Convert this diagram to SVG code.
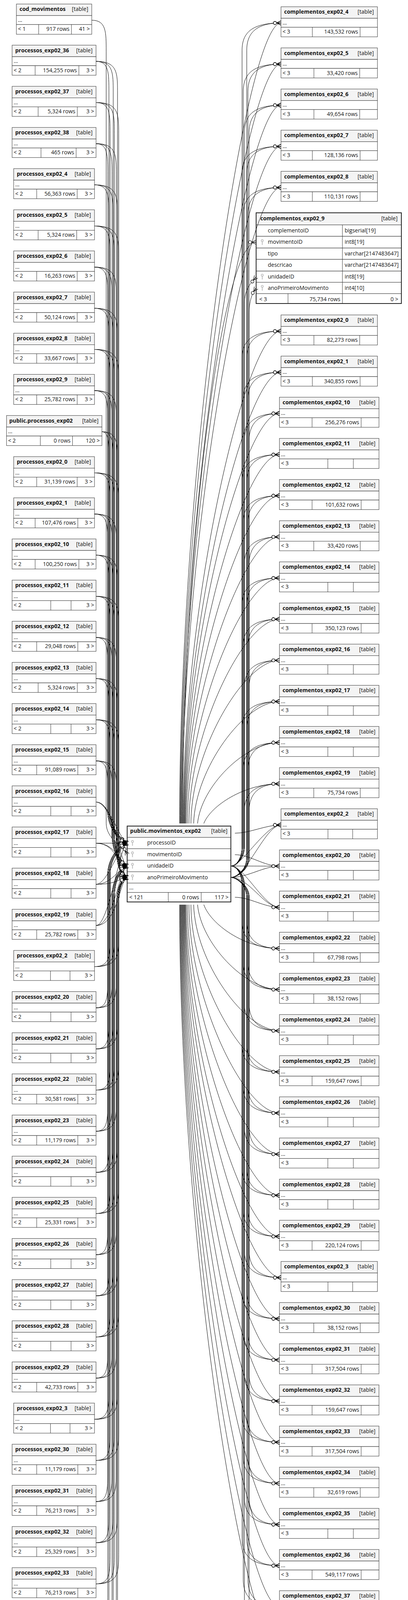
<svg xmlns="http://www.w3.org/2000/svg" xmlns:xlink="http://www.w3.org/1999/xlink" width="1045" height="4356" viewBox="0 0 1045 4356">
<style>
.hd{fill:#f4f4f4;stroke:#333;stroke-width:1}
.bx{fill:#fff;stroke:#333;stroke-width:1}
.dv{fill:none;stroke:#333;stroke-width:1}
.ob{fill:none;stroke:#222;stroke-width:2}
text{font-family:"Open Sans","Noto Sans","DejaVu Sans",sans-serif;font-size:14px;fill:#111}
.t{font-weight:bold}
.e{text-anchor:end}
.ed{fill:none;stroke:#000;stroke-width:1;marker-end:url(#co)}
.k{fill:none;stroke:#bbb}
</style>
<defs>
<marker id="co" markerUnits="userSpaceOnUse" markerWidth="22" markerHeight="14" refX="20" refY="7" orient="auto" overflow="visible"><path d="M9,7L20,1.5M9,7H20M9,7L20,12.5" fill="none" stroke="#000" stroke-width="1.2"/><circle cx="4.5" cy="7" r="4" fill="#fff" stroke="#000" stroke-width="1.2"/></marker>
<g id="key"><circle cx="0" cy="-4" r="2.6" class="k" stroke-width="1.6"/><path d="M0,-1.4V7" class="k" stroke-width="2"/></g>
<g id="fA"><rect class="hd" width="215" height="29.5"/><rect class="bx" y="29.5" width="215" height="23"/><rect class="bx" y="52.5" width="215" height="24.5"/></g>
<g id="fB"><rect class="hd" width="207" height="29.5"/><rect class="bx" y="29.5" width="207" height="23"/><rect class="bx" y="52.5" width="207" height="24.5"/></g>
<g id="fC"><rect class="hd" width="247" height="29.5"/><rect class="bx" y="29.5" width="247" height="23"/><rect class="bx" y="52.5" width="247" height="24.5"/></g>
<g id="fD"><rect class="hd" width="255" height="29.5"/><rect class="bx" y="29.5" width="255" height="23"/><rect class="bx" y="52.5" width="255" height="24.5"/></g>
<g id="A12"><use href="#fA"/><path class="dv" d="M59,52.5v24.5M171,52.5v24.5"/></g>
<g id="A11"><use href="#fA"/><path class="dv" d="M63,52.5v24.5M168.3,52.5v24.5"/></g>
<g id="A10"><use href="#fA"/><path class="dv" d="M66.7,52.5v24.5M167,52.5v24.5"/></g>
<g id="A8"><use href="#fA"/><path class="dv" d="M74,52.5v24.5M164,52.5v24.5"/></g>
<g id="Ae"><use href="#fA"/><path class="dv" d="M99,52.5v24.5M151,52.5v24.5"/></g>
<g id="B12"><use href="#fB"/><path class="dv" d="M55,52.5v24.5M164.3,52.5v24.5"/></g>
<g id="B11"><use href="#fB"/><path class="dv" d="M59,52.5v24.5M162.7,52.5v24.5"/></g>
<g id="B10"><use href="#fB"/><path class="dv" d="M62.7,52.5v24.5M161.5,52.5v24.5"/></g>
<g id="Be"><use href="#fB"/><path class="dv" d="M94.3,52.5v24.5M144.3,52.5v24.5"/></g>
<g id="C12"><use href="#fC"/><path class="dv" d="M80.3,52.5v24.5M202.6,52.5v24.5"/></g>
<g id="C11"><use href="#fC"/><path class="dv" d="M84.3,52.5v24.5M201.6,52.5v24.5"/></g>
<g id="Ce"><use href="#fC"/><path class="dv" d="M120.3,52.5v24.5M183.6,52.5v24.5"/></g>
<g id="D12"><use href="#fD"/><path class="dv" d="M83.6,52.5v24.5M209.3,52.5v24.5"/></g>
<g id="D11"><use href="#fD"/><path class="dv" d="M88,52.5v24.5M207,52.5v24.5"/></g>
<g id="D10"><use href="#fD"/><path class="dv" d="M92,52.5v24.5M205.3,52.5v24.5"/></g>
<g id="De"><use href="#fD"/><path class="dv" d="M124,52.5v24.5M189.3,52.5v24.5"/></g>
</defs>
<rect width="1045" height="4356" fill="#fff"/>

<g id="left-nodes">
<g id="n_cod_movimentos" transform="translate(42,10.3)"><rect class="hd" width="193" height="29.5"/><rect class="bx" y="29.5" width="193" height="23"/><rect class="bx" y="52.5" width="193" height="25"/><path class="dv" d="M57,52.5v25M141,52.5v25"/><text class="t" x="8" y="18">cod_movimentos</text><text class="e" x="184" y="18">[table]</text><text x="4" y="45.5">...</text><text x="4" y="69">&lt; 1</text><text class="e" x="136" y="69">917 rows</text><text class="e" x="188" y="69">41 &gt;</text></g>
<g id="n_processos_exp02_36" transform="translate(31,115.6)"><use href="#A12"/><text class="t" x="8" y="18">processos_exp02_36</text><text class="e" x="206" y="18">[table]</text><text x="4" y="45.5">...</text><text x="4" y="69">&lt; 2</text><text class="e" x="166" y="69">154,255 rows</text><text class="e" x="210" y="69">3 &gt;</text></g>
<g id="n_processos_exp02_37" transform="translate(31,221)"><use href="#A10"/><text class="t" x="8" y="18">processos_exp02_37</text><text class="e" x="206" y="18">[table]</text><text x="4" y="45.5">...</text><text x="4" y="69">&lt; 2</text><text class="e" x="162" y="69">5,324 rows</text><text class="e" x="210" y="69">3 &gt;</text></g>
<g id="n_processos_exp02_38" transform="translate(31,326.3)"><use href="#A8"/><text class="t" x="8" y="18">processos_exp02_38</text><text class="e" x="206" y="18">[table]</text><text x="4" y="45.5">...</text><text x="4" y="69">&lt; 2</text><text class="e" x="159" y="69">465 rows</text><text class="e" x="210" y="69">3 &gt;</text></g>
<g id="n_processos_exp02_4" transform="translate(35,431.7)"><use href="#B11"/><text class="t" x="8" y="18">processos_exp02_4</text><text class="e" x="198" y="18">[table]</text><text x="4" y="45.5">...</text><text x="4" y="69">&lt; 2</text><text class="e" x="157.7" y="69">56,363 rows</text><text class="e" x="202" y="69">3 &gt;</text></g>
<g id="n_processos_exp02_5" transform="translate(35,537)"><use href="#B10"/><text class="t" x="8" y="18">processos_exp02_5</text><text class="e" x="198" y="18">[table]</text><text x="4" y="45.5">...</text><text x="4" y="69">&lt; 2</text><text class="e" x="156.5" y="69">5,324 rows</text><text class="e" x="202" y="69">3 &gt;</text></g>
<g id="n_processos_exp02_6" transform="translate(35,642.3)"><use href="#B11"/><text class="t" x="8" y="18">processos_exp02_6</text><text class="e" x="198" y="18">[table]</text><text x="4" y="45.5">...</text><text x="4" y="69">&lt; 2</text><text class="e" x="157.7" y="69">16,263 rows</text><text class="e" x="202" y="69">3 &gt;</text></g>
<g id="n_processos_exp02_7" transform="translate(35,747.7)"><use href="#B11"/><text class="t" x="8" y="18">processos_exp02_7</text><text class="e" x="198" y="18">[table]</text><text x="4" y="45.5">...</text><text x="4" y="69">&lt; 2</text><text class="e" x="157.7" y="69">50,124 rows</text><text class="e" x="202" y="69">3 &gt;</text></g>
<g id="n_processos_exp02_8" transform="translate(35,853)"><use href="#B11"/><text class="t" x="8" y="18">processos_exp02_8</text><text class="e" x="198" y="18">[table]</text><text x="4" y="45.5">...</text><text x="4" y="69">&lt; 2</text><text class="e" x="157.7" y="69">33,667 rows</text><text class="e" x="202" y="69">3 &gt;</text></g>
<g id="n_processos_exp02_9" transform="translate(35,958.4)"><use href="#B11"/><text class="t" x="8" y="18">processos_exp02_9</text><text class="e" x="198" y="18">[table]</text><text x="4" y="45.5">...</text><text x="4" y="69">&lt; 2</text><text class="e" x="157.7" y="69">25,782 rows</text><text class="e" x="202" y="69">3 &gt;</text></g>
<g id="n_public_processos_exp02" transform="translate(16.7,1063.7)"><rect class="hd" width="244.3" height="29.5"/><rect class="bx" y="29.5" width="244.3" height="23"/><rect class="bx" y="52.5" width="244.3" height="24.5"/><path class="dv" d="M86.6,52.5v24.5M169,52.5v24.5"/><text class="t" x="7" y="18">public.processos_exp02</text><text class="e" x="235.6" y="18">[table]</text><text x="4" y="45.5">...</text><text x="4" y="69">&lt; 2</text><text class="e" x="164" y="69">0 rows</text><text class="e" x="238.8" y="69">120 &gt;</text></g>
<g id="n_processos_exp02_0" transform="translate(35,1169)"><use href="#B11"/><text class="t" x="8" y="18">processos_exp02_0</text><text class="e" x="198" y="18">[table]</text><text x="4" y="45.5">...</text><text x="4" y="69">&lt; 2</text><text class="e" x="157.7" y="69">31,139 rows</text><text class="e" x="202" y="69">3 &gt;</text></g>
<g id="n_processos_exp02_1" transform="translate(35,1274.4)"><use href="#B12"/><text class="t" x="8" y="18">processos_exp02_1</text><text class="e" x="198" y="18">[table]</text><text x="4" y="45.5">...</text><text x="4" y="69">&lt; 2</text><text class="e" x="159.3" y="69">107,476 rows</text><text class="e" x="202" y="69">3 &gt;</text></g>
<g id="n_processos_exp02_10" transform="translate(31,1379.7)"><use href="#A12"/><text class="t" x="8" y="18">processos_exp02_10</text><text class="e" x="206" y="18">[table]</text><text x="4" y="45.5">...</text><text x="4" y="69">&lt; 2</text><text class="e" x="166" y="69">100,250 rows</text><text class="e" x="210" y="69">3 &gt;</text></g>
<g id="n_processos_exp02_11" transform="translate(31,1485.1)"><use href="#Ae"/><text class="t" x="8" y="18">processos_exp02_11</text><text class="e" x="206" y="18">[table]</text><text x="4" y="45.5">...</text><text x="4" y="69">&lt; 2</text><text class="e" x="210" y="69">3 &gt;</text></g>
<g id="n_processos_exp02_12" transform="translate(31,1590.4)"><use href="#A11"/><text class="t" x="8" y="18">processos_exp02_12</text><text class="e" x="206" y="18">[table]</text><text x="4" y="45.5">...</text><text x="4" y="69">&lt; 2</text><text class="e" x="163.3" y="69">29,048 rows</text><text class="e" x="210" y="69">3 &gt;</text></g>
<g id="n_processos_exp02_13" transform="translate(31,1695.7)"><use href="#A10"/><text class="t" x="8" y="18">processos_exp02_13</text><text class="e" x="206" y="18">[table]</text><text x="4" y="45.5">...</text><text x="4" y="69">&lt; 2</text><text class="e" x="162" y="69">5,324 rows</text><text class="e" x="210" y="69">3 &gt;</text></g>
<g id="n_processos_exp02_14" transform="translate(31,1801.1)"><use href="#Ae"/><text class="t" x="8" y="18">processos_exp02_14</text><text class="e" x="206" y="18">[table]</text><text x="4" y="45.5">...</text><text x="4" y="69">&lt; 2</text><text class="e" x="210" y="69">3 &gt;</text></g>
<g id="n_processos_exp02_15" transform="translate(31,1906.4)"><use href="#A11"/><text class="t" x="8" y="18">processos_exp02_15</text><text class="e" x="206" y="18">[table]</text><text x="4" y="45.5">...</text><text x="4" y="69">&lt; 2</text><text class="e" x="163.3" y="69">91,089 rows</text><text class="e" x="210" y="69">3 &gt;</text></g>
<g id="n_processos_exp02_16" transform="translate(31,2011.8)"><use href="#Ae"/><text class="t" x="8" y="18">processos_exp02_16</text><text class="e" x="206" y="18">[table]</text><text x="4" y="45.5">...</text><text x="4" y="69">&lt; 2</text><text class="e" x="210" y="69">3 &gt;</text></g>
<g id="n_processos_exp02_17" transform="translate(31,2117.1)"><use href="#Ae"/><text class="t" x="8" y="18">processos_exp02_17</text><text class="e" x="206" y="18">[table]</text><text x="4" y="45.5">...</text><text x="4" y="69">&lt; 2</text><text class="e" x="210" y="69">3 &gt;</text></g>
<g id="n_processos_exp02_18" transform="translate(31,2222.4)"><use href="#Ae"/><text class="t" x="8" y="18">processos_exp02_18</text><text class="e" x="206" y="18">[table]</text><text x="4" y="45.5">...</text><text x="4" y="69">&lt; 2</text><text class="e" x="210" y="69">3 &gt;</text></g>
<g id="n_processos_exp02_19" transform="translate(31,2327.8)"><use href="#A11"/><text class="t" x="8" y="18">processos_exp02_19</text><text class="e" x="206" y="18">[table]</text><text x="4" y="45.5">...</text><text x="4" y="69">&lt; 2</text><text class="e" x="163.3" y="69">25,782 rows</text><text class="e" x="210" y="69">3 &gt;</text></g>
<g id="n_processos_exp02_2" transform="translate(35,2433.1)"><use href="#Be"/><text class="t" x="8" y="18">processos_exp02_2</text><text class="e" x="198" y="18">[table]</text><text x="4" y="45.5">...</text><text x="4" y="69">&lt; 2</text><text class="e" x="202" y="69">3 &gt;</text></g>
<g id="n_processos_exp02_20" transform="translate(31,2538.5)"><use href="#Ae"/><text class="t" x="8" y="18">processos_exp02_20</text><text class="e" x="206" y="18">[table]</text><text x="4" y="45.5">...</text><text x="4" y="69">&lt; 2</text><text class="e" x="210" y="69">3 &gt;</text></g>
<g id="n_processos_exp02_21" transform="translate(31,2643.8)"><use href="#Ae"/><text class="t" x="8" y="18">processos_exp02_21</text><text class="e" x="206" y="18">[table]</text><text x="4" y="45.5">...</text><text x="4" y="69">&lt; 2</text><text class="e" x="210" y="69">3 &gt;</text></g>
<g id="n_processos_exp02_22" transform="translate(31,2749.1)"><use href="#A11"/><text class="t" x="8" y="18">processos_exp02_22</text><text class="e" x="206" y="18">[table]</text><text x="4" y="45.5">...</text><text x="4" y="69">&lt; 2</text><text class="e" x="163.3" y="69">30,581 rows</text><text class="e" x="210" y="69">3 &gt;</text></g>
<g id="n_processos_exp02_23" transform="translate(31,2854.5)"><use href="#A11"/><text class="t" x="8" y="18">processos_exp02_23</text><text class="e" x="206" y="18">[table]</text><text x="4" y="45.5">...</text><text x="4" y="69">&lt; 2</text><text class="e" x="163.3" y="69">11,179 rows</text><text class="e" x="210" y="69">3 &gt;</text></g>
<g id="n_processos_exp02_24" transform="translate(31,2959.8)"><use href="#Ae"/><text class="t" x="8" y="18">processos_exp02_24</text><text class="e" x="206" y="18">[table]</text><text x="4" y="45.5">...</text><text x="4" y="69">&lt; 2</text><text class="e" x="210" y="69">3 &gt;</text></g>
<g id="n_processos_exp02_25" transform="translate(31,3065.2)"><use href="#A11"/><text class="t" x="8" y="18">processos_exp02_25</text><text class="e" x="206" y="18">[table]</text><text x="4" y="45.5">...</text><text x="4" y="69">&lt; 2</text><text class="e" x="163.3" y="69">25,331 rows</text><text class="e" x="210" y="69">3 &gt;</text></g>
<g id="n_processos_exp02_26" transform="translate(31,3170.5)"><use href="#Ae"/><text class="t" x="8" y="18">processos_exp02_26</text><text class="e" x="206" y="18">[table]</text><text x="4" y="45.5">...</text><text x="4" y="69">&lt; 2</text><text class="e" x="210" y="69">3 &gt;</text></g>
<g id="n_processos_exp02_27" transform="translate(31,3275.8)"><use href="#Ae"/><text class="t" x="8" y="18">processos_exp02_27</text><text class="e" x="206" y="18">[table]</text><text x="4" y="45.5">...</text><text x="4" y="69">&lt; 2</text><text class="e" x="210" y="69">3 &gt;</text></g>
<g id="n_processos_exp02_28" transform="translate(31,3381.2)"><use href="#Ae"/><text class="t" x="8" y="18">processos_exp02_28</text><text class="e" x="206" y="18">[table]</text><text x="4" y="45.5">...</text><text x="4" y="69">&lt; 2</text><text class="e" x="210" y="69">3 &gt;</text></g>
<g id="n_processos_exp02_29" transform="translate(31,3486.5)"><use href="#A11"/><text class="t" x="8" y="18">processos_exp02_29</text><text class="e" x="206" y="18">[table]</text><text x="4" y="45.5">...</text><text x="4" y="69">&lt; 2</text><text class="e" x="163.3" y="69">42,733 rows</text><text class="e" x="210" y="69">3 &gt;</text></g>
<g id="n_processos_exp02_3" transform="translate(35,3591.9)"><use href="#Be"/><text class="t" x="8" y="18">processos_exp02_3</text><text class="e" x="198" y="18">[table]</text><text x="4" y="45.5">...</text><text x="4" y="69">&lt; 2</text><text class="e" x="202" y="69">3 &gt;</text></g>
<g id="n_processos_exp02_30" transform="translate(31,3697.2)"><use href="#A11"/><text class="t" x="8" y="18">processos_exp02_30</text><text class="e" x="206" y="18">[table]</text><text x="4" y="45.5">...</text><text x="4" y="69">&lt; 2</text><text class="e" x="163.3" y="69">11,179 rows</text><text class="e" x="210" y="69">3 &gt;</text></g>
<g id="n_processos_exp02_31" transform="translate(31,3802.5)"><use href="#A11"/><text class="t" x="8" y="18">processos_exp02_31</text><text class="e" x="206" y="18">[table]</text><text x="4" y="45.5">...</text><text x="4" y="69">&lt; 2</text><text class="e" x="163.3" y="69">76,213 rows</text><text class="e" x="210" y="69">3 &gt;</text></g>
<g id="n_processos_exp02_32" transform="translate(31,3907.9)"><use href="#A11"/><text class="t" x="8" y="18">processos_exp02_32</text><text class="e" x="206" y="18">[table]</text><text x="4" y="45.5">...</text><text x="4" y="69">&lt; 2</text><text class="e" x="163.3" y="69">25,329 rows</text><text class="e" x="210" y="69">3 &gt;</text></g>
<g id="n_processos_exp02_33" transform="translate(31,4013.2)"><use href="#A11"/><text class="t" x="8" y="18">processos_exp02_33</text><text class="e" x="206" y="18">[table]</text><text x="4" y="45.5">...</text><text x="4" y="69">&lt; 2</text><text class="e" x="163.3" y="69">76,213 rows</text><text class="e" x="210" y="69">3 &gt;</text></g>
<g id="n_processos_exp02_34" transform="translate(31,4118.6)"><use href="#A11"/><text class="t" x="8" y="18">processos_exp02_34</text><text class="e" x="206" y="18">[table]</text><text x="4" y="45.5">...</text><text x="4" y="69">&lt; 2</text><text class="e" x="163.3" y="69">14,876 rows</text><text class="e" x="210" y="69">3 &gt;</text></g>
<g id="n_processos_exp02_35" transform="translate(31,4223.9)"><use href="#Ae"/><text class="t" x="8" y="18">processos_exp02_35</text><text class="e" x="206" y="18">[table]</text><text x="4" y="45.5">...</text><text x="4" y="69">&lt; 2</text><text class="e" x="210" y="69">3 &gt;</text></g>
</g>

<g id="n_public_movimentos_exp02" transform="translate(325.7,2114.7)">
<rect class="hd" width="265.6" height="29"/>
<rect class="bx" y="29" width="265.6" height="29"/>
<rect class="bx" y="58" width="265.6" height="29.6"/>
<rect class="bx" y="87.6" width="265.6" height="29.4"/>
<rect class="bx" y="117" width="265.6" height="29"/>
<rect class="bx" y="146" width="265.6" height="24"/>
<rect class="bx" y="170" width="265.6" height="24.3"/>
<path class="dv" d="M105.3,170v24.3M189.6,170v24.3"/>
<rect class="ob" width="265.6" height="194.3"/>
<text class="t" x="7.6" y="17.5">public.movimentos_exp02</text><text class="e" x="257" y="17.5">[table]</text>
<use href="#key" x="13.6" y="43.5"/><use href="#key" x="13.6" y="72.5"/><use href="#key" x="13.6" y="102"/><use href="#key" x="13.6" y="131.5"/>
<text x="51.3" y="47.5">processoID</text><text x="51.3" y="77">movimentoID</text><text x="51.3" y="106.5">unidadeID</text><text x="51.3" y="136">anoPrimeiroMovimento</text>
<text x="5.3" y="162">...</text>
<text x="5.3" y="187">&lt; 121</text><text class="e" x="184.3" y="187">0 rows</text><text class="e" x="259.6" y="187">117 &gt;</text>
</g>

<g id="right-nodes">
<g id="n_complementos_exp02_4" transform="translate(719.7,17.3)"><use href="#C12"/><text class="t" x="8" y="18">complementos_exp02_4</text><text class="e" x="238" y="18">[table]</text><text x="4" y="45.5">...</text><text x="4" y="69">&lt; 3</text><text class="e" x="197.6" y="69">143,532 rows</text></g>
<g id="n_complementos_exp02_5" transform="translate(719.7,122.6)"><use href="#C11"/><text class="t" x="8" y="18">complementos_exp02_5</text><text class="e" x="238" y="18">[table]</text><text x="4" y="45.5">...</text><text x="4" y="69">&lt; 3</text><text class="e" x="196.6" y="69">33,420 rows</text></g>
<g id="n_complementos_exp02_6" transform="translate(719.7,227.9)"><use href="#C11"/><text class="t" x="8" y="18">complementos_exp02_6</text><text class="e" x="238" y="18">[table]</text><text x="4" y="45.5">...</text><text x="4" y="69">&lt; 3</text><text class="e" x="196.6" y="69">49,654 rows</text></g>
<g id="n_complementos_exp02_7" transform="translate(719.7,333.2)"><use href="#C12"/><text class="t" x="8" y="18">complementos_exp02_7</text><text class="e" x="238" y="18">[table]</text><text x="4" y="45.5">...</text><text x="4" y="69">&lt; 3</text><text class="e" x="197.6" y="69">128,136 rows</text></g>
<g id="n_complementos_exp02_8" transform="translate(719.7,438.5)"><use href="#C12"/><text class="t" x="8" y="18">complementos_exp02_8</text><text class="e" x="238" y="18">[table]</text><text x="4" y="45.5">...</text><text x="4" y="69">&lt; 3</text><text class="e" x="197.6" y="69">110,131 rows</text></g>
<g id="n_complementos_exp02_9" transform="translate(656,544.7)">
<rect class="hd" width="372" height="31"/>
<rect class="bx" y="31" width="372" height="29.3"/>
<rect class="bx" y="60.3" width="372" height="30"/>
<rect class="bx" y="90.3" width="372" height="29"/>
<rect class="bx" y="119.3" width="372" height="30"/>
<rect class="bx" y="149.3" width="372" height="28.7"/>
<rect class="bx" y="178" width="372" height="29"/>
<rect class="bx" y="207" width="372" height="25.3"/>
<path class="dv" d="M221,31V232.3M81.7,207v25.3"/>
<rect class="ob" width="372" height="232.3"/>
<text class="t" x="10.7" y="19">complementos_exp02_9</text><text class="e" x="362.3" y="19">[table]</text>
<use href="#key" x="15.7" y="75.3"/><use href="#key" x="15.7" y="163.7"/><use href="#key" x="15.7" y="192.4"/>
<text x="30" y="50.3">complementoID</text><text x="226.7" y="50.3">bigserial[19]</text>
<text x="30" y="79.3">movimentoID</text><text x="226.7" y="79.3">int8[19]</text>
<text x="30" y="109.3">tipo</text><text x="226.7" y="109.3">varchar[2147483647]</text>
<text x="30" y="138.3">descricao</text><text x="226.7" y="138.3">varchar[2147483647]</text>
<text x="30" y="168.3">unidadeID</text><text x="226.7" y="168.3">int8[19]</text>
<text x="30" y="197">anoPrimeiroMovimento</text><text x="226.7" y="197">int4[10]</text>
<text x="8" y="226">&lt; 3</text><text class="e" x="215.7" y="226">75,734 rows</text><text class="e" x="364" y="226">0 &gt;</text>
</g>
<g id="n_complementos_exp02_0" transform="translate(719.7,806.2)"><use href="#C11"/><text class="t" x="8" y="18">complementos_exp02_0</text><text class="e" x="238" y="18">[table]</text><text x="4" y="45.5">...</text><text x="4" y="69">&lt; 3</text><text class="e" x="196.6" y="69">82,273 rows</text></g>
<g id="n_complementos_exp02_1" transform="translate(719.7,911.6)"><use href="#C12"/><text class="t" x="8" y="18">complementos_exp02_1</text><text class="e" x="238" y="18">[table]</text><text x="4" y="45.5">...</text><text x="4" y="69">&lt; 3</text><text class="e" x="197.6" y="69">340,855 rows</text></g>
<g id="n_complementos_exp02_10" transform="translate(715.7,1016.9)"><use href="#D12"/><text class="t" x="8" y="18">complementos_exp02_10</text><text class="e" x="246" y="18">[table]</text><text x="4" y="45.5">...</text><text x="4" y="69">&lt; 3</text><text class="e" x="204.3" y="69">256,276 rows</text></g>
<g id="n_complementos_exp02_11" transform="translate(715.7,1122.3)"><use href="#De"/><text class="t" x="8" y="18">complementos_exp02_11</text><text class="e" x="246" y="18">[table]</text><text x="4" y="45.5">...</text><text x="4" y="69">&lt; 3</text></g>
<g id="n_complementos_exp02_12" transform="translate(715.7,1227.6)"><use href="#D12"/><text class="t" x="8" y="18">complementos_exp02_12</text><text class="e" x="246" y="18">[table]</text><text x="4" y="45.5">...</text><text x="4" y="69">&lt; 3</text><text class="e" x="204.3" y="69">101,632 rows</text></g>
<g id="n_complementos_exp02_13" transform="translate(715.7,1333)"><use href="#D11"/><text class="t" x="8" y="18">complementos_exp02_13</text><text class="e" x="246" y="18">[table]</text><text x="4" y="45.5">...</text><text x="4" y="69">&lt; 3</text><text class="e" x="202" y="69">33,420 rows</text></g>
<g id="n_complementos_exp02_14" transform="translate(715.7,1438.3)"><use href="#De"/><text class="t" x="8" y="18">complementos_exp02_14</text><text class="e" x="246" y="18">[table]</text><text x="4" y="45.5">...</text><text x="4" y="69">&lt; 3</text></g>
<g id="n_complementos_exp02_15" transform="translate(715.7,1543.7)"><use href="#D12"/><text class="t" x="8" y="18">complementos_exp02_15</text><text class="e" x="246" y="18">[table]</text><text x="4" y="45.5">...</text><text x="4" y="69">&lt; 3</text><text class="e" x="204.3" y="69">350,123 rows</text></g>
<g id="n_complementos_exp02_16" transform="translate(715.7,1649)"><use href="#De"/><text class="t" x="8" y="18">complementos_exp02_16</text><text class="e" x="246" y="18">[table]</text><text x="4" y="45.5">...</text><text x="4" y="69">&lt; 3</text></g>
<g id="n_complementos_exp02_17" transform="translate(715.7,1754.4)"><use href="#De"/><text class="t" x="8" y="18">complementos_exp02_17</text><text class="e" x="246" y="18">[table]</text><text x="4" y="45.5">...</text><text x="4" y="69">&lt; 3</text></g>
<g id="n_complementos_exp02_18" transform="translate(715.7,1859.7)"><use href="#De"/><text class="t" x="8" y="18">complementos_exp02_18</text><text class="e" x="246" y="18">[table]</text><text x="4" y="45.5">...</text><text x="4" y="69">&lt; 3</text></g>
<g id="n_complementos_exp02_19" transform="translate(715.7,1965.1)"><use href="#D11"/><text class="t" x="8" y="18">complementos_exp02_19</text><text class="e" x="246" y="18">[table]</text><text x="4" y="45.5">...</text><text x="4" y="69">&lt; 3</text><text class="e" x="202" y="69">75,734 rows</text></g>
<g id="n_complementos_exp02_2" transform="translate(719.7,2070.4)"><use href="#Ce"/><text class="t" x="8" y="18">complementos_exp02_2</text><text class="e" x="238" y="18">[table]</text><text x="4" y="45.5">...</text><text x="4" y="69">&lt; 3</text></g>
<g id="n_complementos_exp02_20" transform="translate(715.7,2175.8)"><use href="#De"/><text class="t" x="8" y="18">complementos_exp02_20</text><text class="e" x="246" y="18">[table]</text><text x="4" y="45.5">...</text><text x="4" y="69">&lt; 3</text></g>
<g id="n_complementos_exp02_21" transform="translate(715.7,2281.1)"><use href="#De"/><text class="t" x="8" y="18">complementos_exp02_21</text><text class="e" x="246" y="18">[table]</text><text x="4" y="45.5">...</text><text x="4" y="69">&lt; 3</text></g>
<g id="n_complementos_exp02_22" transform="translate(715.7,2386.5)"><use href="#D11"/><text class="t" x="8" y="18">complementos_exp02_22</text><text class="e" x="246" y="18">[table]</text><text x="4" y="45.5">...</text><text x="4" y="69">&lt; 3</text><text class="e" x="202" y="69">67,798 rows</text></g>
<g id="n_complementos_exp02_23" transform="translate(715.7,2491.8)"><use href="#D11"/><text class="t" x="8" y="18">complementos_exp02_23</text><text class="e" x="246" y="18">[table]</text><text x="4" y="45.5">...</text><text x="4" y="69">&lt; 3</text><text class="e" x="202" y="69">38,152 rows</text></g>
<g id="n_complementos_exp02_24" transform="translate(715.7,2597.2)"><use href="#De"/><text class="t" x="8" y="18">complementos_exp02_24</text><text class="e" x="246" y="18">[table]</text><text x="4" y="45.5">...</text><text x="4" y="69">&lt; 3</text></g>
<g id="n_complementos_exp02_25" transform="translate(715.7,2702.5)"><use href="#D12"/><text class="t" x="8" y="18">complementos_exp02_25</text><text class="e" x="246" y="18">[table]</text><text x="4" y="45.5">...</text><text x="4" y="69">&lt; 3</text><text class="e" x="204.3" y="69">159,647 rows</text></g>
<g id="n_complementos_exp02_26" transform="translate(715.7,2807.9)"><use href="#De"/><text class="t" x="8" y="18">complementos_exp02_26</text><text class="e" x="246" y="18">[table]</text><text x="4" y="45.5">...</text><text x="4" y="69">&lt; 3</text></g>
<g id="n_complementos_exp02_27" transform="translate(715.7,2913.2)"><use href="#De"/><text class="t" x="8" y="18">complementos_exp02_27</text><text class="e" x="246" y="18">[table]</text><text x="4" y="45.5">...</text><text x="4" y="69">&lt; 3</text></g>
<g id="n_complementos_exp02_28" transform="translate(715.7,3018.6)"><use href="#De"/><text class="t" x="8" y="18">complementos_exp02_28</text><text class="e" x="246" y="18">[table]</text><text x="4" y="45.5">...</text><text x="4" y="69">&lt; 3</text></g>
<g id="n_complementos_exp02_29" transform="translate(715.7,3123.9)"><use href="#D12"/><text class="t" x="8" y="18">complementos_exp02_29</text><text class="e" x="246" y="18">[table]</text><text x="4" y="45.5">...</text><text x="4" y="69">&lt; 3</text><text class="e" x="204.3" y="69">220,124 rows</text></g>
<g id="n_complementos_exp02_3" transform="translate(719.7,3229.3)"><use href="#Ce"/><text class="t" x="8" y="18">complementos_exp02_3</text><text class="e" x="238" y="18">[table]</text><text x="4" y="45.5">...</text><text x="4" y="69">&lt; 3</text></g>
<g id="n_complementos_exp02_30" transform="translate(715.7,3334.6)"><use href="#D11"/><text class="t" x="8" y="18">complementos_exp02_30</text><text class="e" x="246" y="18">[table]</text><text x="4" y="45.5">...</text><text x="4" y="69">&lt; 3</text><text class="e" x="202" y="69">38,152 rows</text></g>
<g id="n_complementos_exp02_31" transform="translate(715.7,3440)"><use href="#D12"/><text class="t" x="8" y="18">complementos_exp02_31</text><text class="e" x="246" y="18">[table]</text><text x="4" y="45.5">...</text><text x="4" y="69">&lt; 3</text><text class="e" x="204.3" y="69">317,504 rows</text></g>
<g id="n_complementos_exp02_32" transform="translate(715.7,3545.3)"><use href="#D12"/><text class="t" x="8" y="18">complementos_exp02_32</text><text class="e" x="246" y="18">[table]</text><text x="4" y="45.5">...</text><text x="4" y="69">&lt; 3</text><text class="e" x="204.3" y="69">159,647 rows</text></g>
<g id="n_complementos_exp02_33" transform="translate(715.7,3650.7)"><use href="#D12"/><text class="t" x="8" y="18">complementos_exp02_33</text><text class="e" x="246" y="18">[table]</text><text x="4" y="45.5">...</text><text x="4" y="69">&lt; 3</text><text class="e" x="204.3" y="69">317,504 rows</text></g>
<g id="n_complementos_exp02_34" transform="translate(715.7,3756)"><use href="#D11"/><text class="t" x="8" y="18">complementos_exp02_34</text><text class="e" x="246" y="18">[table]</text><text x="4" y="45.5">...</text><text x="4" y="69">&lt; 3</text><text class="e" x="202" y="69">32,619 rows</text></g>
<g id="n_complementos_exp02_35" transform="translate(715.7,3861.4)"><use href="#De"/><text class="t" x="8" y="18">complementos_exp02_35</text><text class="e" x="246" y="18">[table]</text><text x="4" y="45.5">...</text><text x="4" y="69">&lt; 3</text></g>
<g id="n_complementos_exp02_36" transform="translate(715.7,3966.7)"><use href="#D12"/><text class="t" x="8" y="18">complementos_exp02_36</text><text class="e" x="246" y="18">[table]</text><text x="4" y="45.5">...</text><text x="4" y="69">&lt; 3</text><text class="e" x="204.3" y="69">549,117 rows</text></g>
<g id="n_complementos_exp02_37" transform="translate(715.7,4072.1)"><use href="#D11"/><text class="t" x="8" y="18">complementos_exp02_37</text><text class="e" x="246" y="18">[table]</text><text x="4" y="45.5">...</text><text x="4" y="69">&lt; 3</text><text class="e" x="202" y="69">33,420 rows</text></g>
<g id="n_complementos_exp02_38" transform="translate(715.7,4177.4)"><use href="#D10"/><text class="t" x="8" y="18">complementos_exp02_38</text><text class="e" x="246" y="18">[table]</text><text x="4" y="45.5">...</text><text x="4" y="69">&lt; 3</text><text class="e" x="200.3" y="69">3,003 rows</text></g>
</g>

<g id="connectors">
<path class="ed" d="M235,51.8c37,0 37,30 37,80V2107.5c0,40 43.7,60 53.7,80"/>
<path class="ed" d="M246,157.1c33,0 33,30 33,80V2078.2c0,40 26.7,71 46.7,80"/>
<path class="ed" d="M246,157.1c44,0 44,30 44,80V2137c0,40 15.7,71 35.7,80"/>
<path class="ed" d="M246,157.1c55,0 55,30 55,80V2166.2c0,40 4.7,71 24.7,80"/>
<path class="ed" d="M246,262.5c36,0 36,30 36,80V2078.2c0,40 23.7,65 43.7,80"/>
<path class="ed" d="M246,262.5c47,0 47,30 47,80V2137c0,40 12.7,65 32.7,80"/>
<path class="ed" d="M246,262.5c58,0 58,30 58,80V2166.2c0,40 1.7,65 21.7,80"/>
<path class="ed" d="M246,367.8c30,0 30,30 30,80V2078.2c0,40 29.7,77 49.7,80"/>
<path class="ed" d="M246,367.8c41,0 41,30 41,80V2137c0,40 18.7,77 38.7,80"/>
<path class="ed" d="M246,367.8c52,0 52,30 52,80V2166.2c0,40 7.7,77 27.7,80"/>
<path class="ed" d="M242,473.2c37,0 37,30 37,80V2078.2c0,40 26.7,71 46.7,80"/>
<path class="ed" d="M242,473.2c48,0 48,30 48,80V2137c0,40 15.7,71 35.7,80"/>
<path class="ed" d="M242,473.2c59,0 59,30 59,80V2166.2c0,40 4.7,71 24.7,80"/>
<path class="ed" d="M242,578.5c40,0 40,30 40,80V2078.2c0,40 23.7,65 43.7,80"/>
<path class="ed" d="M242,578.5c51,0 51,30 51,80V2137c0,40 12.7,65 32.7,80"/>
<path class="ed" d="M242,578.5c62,0 62,30 62,80V2166.2c0,40 1.7,65 21.7,80"/>
<path class="ed" d="M242,683.8c34,0 34,30 34,80V2078.2c0,40 29.7,77 49.7,80"/>
<path class="ed" d="M242,683.8c45,0 45,30 45,80V2137c0,40 18.7,77 38.7,80"/>
<path class="ed" d="M242,683.8c56,0 56,30 56,80V2166.2c0,40 7.7,77 27.7,80"/>
<path class="ed" d="M242,789.2c37,0 37,30 37,80V2078.2c0,40 26.7,71 46.7,80"/>
<path class="ed" d="M242,789.2c48,0 48,30 48,80V2137c0,40 15.7,71 35.7,80"/>
<path class="ed" d="M242,789.2c59,0 59,30 59,80V2166.2c0,40 4.7,71 24.7,80"/>
<path class="ed" d="M242,894.5c40,0 40,30 40,80V2078.2c0,40 23.7,65 43.7,80"/>
<path class="ed" d="M242,894.5c51,0 51,30 51,80V2137c0,40 12.7,65 32.7,80"/>
<path class="ed" d="M242,894.5c62,0 62,30 62,80V2166.2c0,40 1.7,65 21.7,80"/>
<path class="ed" d="M242,999.9c34,0 34,30 34,80V2078.2c0,40 29.7,77 49.7,80"/>
<path class="ed" d="M242,999.9c45,0 45,30 45,80V2137c0,40 18.7,77 38.7,80"/>
<path class="ed" d="M242,999.9c56,0 56,30 56,80V2166.2c0,40 7.7,77 27.7,80"/>
<path class="ed" d="M261,1105.2c18,0 18,30 18,80V2078.2c0,40 26.7,71 46.7,80"/>
<path class="ed" d="M261,1105.2c29,0 29,30 29,80V2137c0,40 15.7,71 35.7,80"/>
<path class="ed" d="M261,1105.2c40,0 40,30 40,80V2166.2c0,40 4.7,71 24.7,80"/>
<path class="ed" d="M242,1210.5c40,0 40,30 40,80V2078.2c0,40 23.7,65 43.7,80"/>
<path class="ed" d="M242,1210.5c51,0 51,30 51,80V2137c0,40 12.7,65 32.7,80"/>
<path class="ed" d="M242,1210.5c62,0 62,30 62,80V2166.2c0,40 1.7,65 21.7,80"/>
<path class="ed" d="M242,1315.9c34,0 34,30 34,80V2078.2c0,40 29.7,77 49.7,80"/>
<path class="ed" d="M242,1315.9c45,0 45,30 45,80V2137c0,40 18.7,77 38.7,80"/>
<path class="ed" d="M242,1315.9c56,0 56,30 56,80V2166.2c0,40 7.7,77 27.7,80"/>
<path class="ed" d="M246,1421.2c33,0 33,30 33,80V2078.2c0,40 26.7,71 46.7,80"/>
<path class="ed" d="M246,1421.2c44,0 44,30 44,80V2137c0,40 15.7,71 35.7,80"/>
<path class="ed" d="M246,1421.2c55,0 55,30 55,80V2166.2c0,40 4.7,71 24.7,80"/>
<path class="ed" d="M246,1526.6c36,0 36,30 36,80V2078.2c0,40 23.7,65 43.7,80"/>
<path class="ed" d="M246,1526.6c47,0 47,30 47,80V2137c0,40 12.7,65 32.7,80"/>
<path class="ed" d="M246,1526.6c58,0 58,30 58,80V2166.2c0,40 1.7,65 21.7,80"/>
<path class="ed" d="M246,1631.9c30,0 30,30 30,80V2078.2c0,40 29.7,77 49.7,80"/>
<path class="ed" d="M246,1631.9c41,0 41,30 41,80V2137c0,40 18.7,77 38.7,80"/>
<path class="ed" d="M246,1631.9c52,0 52,30 52,80V2166.2c0,40 7.7,77 27.7,80"/>
<path class="ed" d="M246,1737.2c33,0 33,30 33,80V2078.2c0,40 26.7,71 46.7,80"/>
<path class="ed" d="M246,1737.2c44,0 44,30 44,80V2137c0,40 15.7,71 35.7,80"/>
<path class="ed" d="M246,1737.2c55,0 55,30 55,80V2166.2c0,40 4.7,71 24.7,80"/>
<path class="ed" d="M246,1842.6c36,0 36,30 36,80V2078.2c0,40 23.7,65 43.7,80"/>
<path class="ed" d="M246,1842.6c47,0 47,30 47,80V2137c0,40 12.7,65 32.7,80"/>
<path class="ed" d="M246,1842.6c58,0 58,30 58,80V2166.2c0,40 1.7,65 21.7,80"/>
<path class="ed" d="M246,1947.9c30,0 30,30 30,80V2078.2c0,40 29.7,77 49.7,80"/>
<path class="ed" d="M246,1947.9c41,0 41,30 41,80V2137c0,40 18.7,77 38.7,80"/>
<path class="ed" d="M246,1947.9c52,0 52,30 52,80V2166.2c0,40 7.7,77 27.7,80"/>
<path class="ed" d="M246,2053.3C279,2053.3 305.7,2149.2 325.7,2158.2"/>
<path class="ed" d="M246,2053.3C290,2053.3 305.7,2208 325.7,2217"/>
<path class="ed" d="M246,2053.3C301,2053.3 305.7,2237.2 325.7,2246.2"/>
<path class="ed" d="M246,2158.6C282,2158.6 305.7,2158.2 325.7,2158.2"/>
<path class="ed" d="M246,2158.6C293,2158.6 305.7,2202 325.7,2217"/>
<path class="ed" d="M246,2158.6C304,2158.6 305.7,2231.2 325.7,2246.2"/>
<path class="ed" d="M246,2263.9C276,2263.9 305.7,2161.2 325.7,2158.2"/>
<path class="ed" d="M246,2263.9C287,2263.9 305.7,2220 325.7,2217"/>
<path class="ed" d="M246,2263.9C298,2263.9 305.7,2249.2 325.7,2246.2"/>
<path class="ed" d="M246,2369.3C279,2369.3 305.7,2167.2 325.7,2158.2"/>
<path class="ed" d="M246,2369.3C290,2369.3 305.7,2226 325.7,2217"/>
<path class="ed" d="M246,2369.3C301,2369.3 305.7,2255.2 325.7,2246.2"/>
<path class="ed" d="M242,2474.6c40,0 40,-30 40,-80V2238.2c0,-40 23.7,-65 43.7,-80"/>
<path class="ed" d="M242,2474.6c51,0 51,-30 51,-80V2297c0,-40 12.7,-65 32.7,-80"/>
<path class="ed" d="M242,2474.6c62,0 62,-30 62,-80V2326.2c0,-40 1.7,-65 21.7,-80"/>
<path class="ed" d="M246,2580c30,0 30,-30 30,-80V2238.2c0,-40 29.7,-77 49.7,-80"/>
<path class="ed" d="M246,2580c41,0 41,-30 41,-80V2297c0,-40 18.7,-77 38.7,-80"/>
<path class="ed" d="M246,2580c52,0 52,-30 52,-80V2326.2c0,-40 7.7,-77 27.7,-80"/>
<path class="ed" d="M246,2685.3c33,0 33,-30 33,-80V2238.2c0,-40 26.7,-71 46.7,-80"/>
<path class="ed" d="M246,2685.3c44,0 44,-30 44,-80V2297c0,-40 15.7,-71 35.7,-80"/>
<path class="ed" d="M246,2685.3c55,0 55,-30 55,-80V2326.2c0,-40 4.7,-71 24.7,-80"/>
<path class="ed" d="M246,2790.6c36,0 36,-30 36,-80V2238.2c0,-40 23.7,-65 43.7,-80"/>
<path class="ed" d="M246,2790.6c47,0 47,-30 47,-80V2297c0,-40 12.7,-65 32.7,-80"/>
<path class="ed" d="M246,2790.6c58,0 58,-30 58,-80V2326.2c0,-40 1.7,-65 21.7,-80"/>
<path class="ed" d="M246,2896c30,0 30,-30 30,-80V2238.2c0,-40 29.7,-77 49.7,-80"/>
<path class="ed" d="M246,2896c41,0 41,-30 41,-80V2297c0,-40 18.7,-77 38.7,-80"/>
<path class="ed" d="M246,2896c52,0 52,-30 52,-80V2326.2c0,-40 7.7,-77 27.7,-80"/>
<path class="ed" d="M246,3001.3c33,0 33,-30 33,-80V2238.2c0,-40 26.7,-71 46.7,-80"/>
<path class="ed" d="M246,3001.3c44,0 44,-30 44,-80V2297c0,-40 15.7,-71 35.7,-80"/>
<path class="ed" d="M246,3001.3c55,0 55,-30 55,-80V2326.2c0,-40 4.7,-71 24.7,-80"/>
<path class="ed" d="M246,3106.7c36,0 36,-30 36,-80V2238.2c0,-40 23.7,-65 43.7,-80"/>
<path class="ed" d="M246,3106.7c47,0 47,-30 47,-80V2297c0,-40 12.7,-65 32.7,-80"/>
<path class="ed" d="M246,3106.7c58,0 58,-30 58,-80V2326.2c0,-40 1.7,-65 21.7,-80"/>
<path class="ed" d="M246,3212c30,0 30,-30 30,-80V2238.2c0,-40 29.7,-77 49.7,-80"/>
<path class="ed" d="M246,3212c41,0 41,-30 41,-80V2297c0,-40 18.7,-77 38.7,-80"/>
<path class="ed" d="M246,3212c52,0 52,-30 52,-80V2326.2c0,-40 7.7,-77 27.7,-80"/>
<path class="ed" d="M246,3317.3c33,0 33,-30 33,-80V2238.2c0,-40 26.7,-71 46.7,-80"/>
<path class="ed" d="M246,3317.3c44,0 44,-30 44,-80V2297c0,-40 15.7,-71 35.7,-80"/>
<path class="ed" d="M246,3317.3c55,0 55,-30 55,-80V2326.2c0,-40 4.7,-71 24.7,-80"/>
<path class="ed" d="M246,3422.7c36,0 36,-30 36,-80V2238.2c0,-40 23.7,-65 43.7,-80"/>
<path class="ed" d="M246,3422.7c47,0 47,-30 47,-80V2297c0,-40 12.7,-65 32.7,-80"/>
<path class="ed" d="M246,3422.7c58,0 58,-30 58,-80V2326.2c0,-40 1.7,-65 21.7,-80"/>
<path class="ed" d="M246,3528c30,0 30,-30 30,-80V2238.2c0,-40 29.7,-77 49.7,-80"/>
<path class="ed" d="M246,3528c41,0 41,-30 41,-80V2297c0,-40 18.7,-77 38.7,-80"/>
<path class="ed" d="M246,3528c52,0 52,-30 52,-80V2326.2c0,-40 7.7,-77 27.7,-80"/>
<path class="ed" d="M242,3633.4c37,0 37,-30 37,-80V2238.2c0,-40 26.7,-71 46.7,-80"/>
<path class="ed" d="M242,3633.4c48,0 48,-30 48,-80V2297c0,-40 15.7,-71 35.7,-80"/>
<path class="ed" d="M242,3633.4c59,0 59,-30 59,-80V2326.2c0,-40 4.7,-71 24.7,-80"/>
<path class="ed" d="M246,3738.7c36,0 36,-30 36,-80V2238.2c0,-40 23.7,-65 43.7,-80"/>
<path class="ed" d="M246,3738.7c47,0 47,-30 47,-80V2297c0,-40 12.7,-65 32.7,-80"/>
<path class="ed" d="M246,3738.7c58,0 58,-30 58,-80V2326.2c0,-40 1.7,-65 21.7,-80"/>
<path class="ed" d="M246,3844c30,0 30,-30 30,-80V2238.2c0,-40 29.7,-77 49.7,-80"/>
<path class="ed" d="M246,3844c41,0 41,-30 41,-80V2297c0,-40 18.7,-77 38.7,-80"/>
<path class="ed" d="M246,3844c52,0 52,-30 52,-80V2326.2c0,-40 7.7,-77 27.7,-80"/>
<path class="ed" d="M246,3949.4c33,0 33,-30 33,-80V2238.2c0,-40 26.7,-71 46.7,-80"/>
<path class="ed" d="M246,3949.4c44,0 44,-30 44,-80V2297c0,-40 15.7,-71 35.7,-80"/>
<path class="ed" d="M246,3949.4c55,0 55,-30 55,-80V2326.2c0,-40 4.7,-71 24.7,-80"/>
<path class="ed" d="M246,4054.7c36,0 36,-30 36,-80V2238.2c0,-40 23.7,-65 43.7,-80"/>
<path class="ed" d="M246,4054.7c47,0 47,-30 47,-80V2297c0,-40 12.7,-65 32.7,-80"/>
<path class="ed" d="M246,4054.7c58,0 58,-30 58,-80V2326.2c0,-40 1.7,-65 21.7,-80"/>
<path class="ed" d="M246,4160.1c30,0 30,-30 30,-80V2238.2c0,-40 29.7,-77 49.7,-80"/>
<path class="ed" d="M246,4160.1c41,0 41,-30 41,-80V2297c0,-40 18.7,-77 38.7,-80"/>
<path class="ed" d="M246,4160.1c52,0 52,-30 52,-80V2326.2c0,-40 7.7,-77 27.7,-80"/>
<path class="ed" d="M246,4265.4c33,0 33,-30 33,-80V2238.2c0,-40 26.7,-71 46.7,-80"/>
<path class="ed" d="M246,4265.4c44,0 44,-30 44,-80V2297c0,-40 15.7,-71 35.7,-80"/>
<path class="ed" d="M246,4265.4c55,0 55,-30 55,-80V2326.2c0,-40 4.7,-71 24.7,-80"/>

<path class="ed" d="M591.3,2217c15,0 28.7,-20 28.7,-50V128.8c0,-45 25,-70 99.7,-70"/>
<path class="ed" d="M591.3,2246.2c15,0 40.7,-20 40.7,-50V128.8c0,-45 25,-70 87.7,-70"/>
<path class="ed" d="M591.3,2217c15,0 31.7,-20 31.7,-50V234.1c0,-45 25,-70 96.7,-70"/>
<path class="ed" d="M591.3,2246.2c15,0 43.7,-20 43.7,-50V234.1c0,-45 25,-70 84.7,-70"/>
<path class="ed" d="M591.3,2217c15,0 34.7,-20 34.7,-50V339.4c0,-45 25,-70 93.7,-70"/>
<path class="ed" d="M591.3,2246.2c15,0 46.7,-20 46.7,-50V339.4c0,-45 25,-70 81.7,-70"/>
<path class="ed" d="M591.3,2217c15,0 28.7,-20 28.7,-50V444.7c0,-45 25,-70 99.7,-70"/>
<path class="ed" d="M591.3,2246.2c15,0 40.7,-20 40.7,-50V444.7c0,-45 25,-70 87.7,-70"/>
<path class="ed" d="M591.3,2217c15,0 31.7,-20 31.7,-50V550c0,-45 25,-70 96.7,-70"/>
<path class="ed" d="M591.3,2246.2c15,0 43.7,-20 43.7,-50V550c0,-45 25,-70 84.7,-70"/>
<path class="ed" d="M591.3,2217c15,0 34.7,-20 34.7,-50V778.5c0,-40 18,-55 30,-70"/>
<path class="ed" d="M591.3,2246.2c15,0 46.7,-20 46.7,-50V807c0,-40 8,-55 18,-70"/>
<path class="ed" d="M591.3,2217c15,0 28.7,-20 28.7,-50V917.7c0,-45 25,-70 99.7,-70"/>
<path class="ed" d="M591.3,2246.2c15,0 40.7,-20 40.7,-50V917.7c0,-45 25,-70 87.7,-70"/>
<path class="ed" d="M591.3,2217c15,0 31.7,-20 31.7,-50V1023.1c0,-45 25,-70 96.7,-70"/>
<path class="ed" d="M591.3,2246.2c15,0 43.7,-20 43.7,-50V1023.1c0,-45 25,-70 84.7,-70"/>
<path class="ed" d="M591.3,2217c15,0 34.7,-20 34.7,-50V1128.4c0,-45 25,-70 89.7,-70"/>
<path class="ed" d="M591.3,2246.2c15,0 46.7,-20 46.7,-50V1128.4c0,-45 25,-70 77.7,-70"/>
<path class="ed" d="M591.3,2217c15,0 28.7,-20 28.7,-50V1233.8c0,-45 25,-70 95.7,-70"/>
<path class="ed" d="M591.3,2246.2c15,0 40.7,-20 40.7,-50V1233.8c0,-45 25,-70 83.7,-70"/>
<path class="ed" d="M591.3,2217c15,0 31.7,-20 31.7,-50V1339.1c0,-45 25,-70 92.7,-70"/>
<path class="ed" d="M591.3,2246.2c15,0 43.7,-20 43.7,-50V1339.1c0,-45 25,-70 80.7,-70"/>
<path class="ed" d="M591.3,2217c15,0 34.7,-20 34.7,-50V1444.5c0,-45 25,-70 89.7,-70"/>
<path class="ed" d="M591.3,2246.2c15,0 46.7,-20 46.7,-50V1444.5c0,-45 25,-70 77.7,-70"/>
<path class="ed" d="M591.3,2217c15,0 28.7,-20 28.7,-50V1549.8c0,-45 25,-70 95.7,-70"/>
<path class="ed" d="M591.3,2246.2c15,0 40.7,-20 40.7,-50V1549.8c0,-45 25,-70 83.7,-70"/>
<path class="ed" d="M591.3,2217c15,0 31.7,-20 31.7,-50V1655.2c0,-45 25,-70 92.7,-70"/>
<path class="ed" d="M591.3,2246.2c15,0 43.7,-20 43.7,-50V1655.2c0,-45 25,-70 80.7,-70"/>
<path class="ed" d="M591.3,2217c15,0 34.7,-20 34.7,-50V1760.5c0,-45 25,-70 89.7,-70"/>
<path class="ed" d="M591.3,2246.2c15,0 46.7,-20 46.7,-50V1760.5c0,-45 25,-70 77.7,-70"/>
<path class="ed" d="M591.3,2217c15,0 28.7,-20 28.7,-50V1865.9c0,-45 25,-70 95.7,-70"/>
<path class="ed" d="M591.3,2246.2c15,0 40.7,-20 40.7,-50V1865.9c0,-45 25,-70 83.7,-70"/>
<path class="ed" d="M591.3,2217c15,0 31.7,-20 31.7,-50V1971.2c0,-45 25,-70 92.7,-70"/>
<path class="ed" d="M591.3,2246.2c15,0 43.7,-20 43.7,-50V1971.2c0,-45 25,-70 80.7,-70"/>
<path class="ed" d="M591.3,2217c15,0 34.7,-20 34.7,-50V2076.6c0,-45 25,-70 89.7,-70"/>
<path class="ed" d="M591.3,2246.2c15,0 46.7,-20 46.7,-50V2076.6c0,-45 25,-70 77.7,-70"/>
<path class="ed" d="M591.3,2217C620,2217 679.7,2111.9 719.7,2111.9"/>
<path class="ed" d="M591.3,2246.2C632,2246.2 679.7,2111.9 719.7,2111.9"/>
<path class="ed" d="M591.3,2217C623,2217 675.7,2217.3 715.7,2217.3"/>
<path class="ed" d="M591.3,2246.2C635,2246.2 675.7,2217.3 715.7,2217.3"/>
<path class="ed" d="M591.3,2217C626,2217 675.7,2322.6 715.7,2322.6"/>
<path class="ed" d="M591.3,2246.2C638,2246.2 675.7,2322.6 715.7,2322.6"/>
<path class="ed" d="M591.3,2217c15,0 28.7,20 28.7,50V2358c0,45 25,70 95.7,70"/>
<path class="ed" d="M591.3,2246.2c15,0 40.7,20 40.7,50V2358c0,45 25,70 83.7,70"/>
<path class="ed" d="M591.3,2217c15,0 31.7,20 31.7,50V2463.3c0,45 25,70 92.7,70"/>
<path class="ed" d="M591.3,2246.2c15,0 43.7,20 43.7,50V2463.3c0,45 25,70 80.7,70"/>
<path class="ed" d="M591.3,2217c15,0 34.7,20 34.7,50V2568.7c0,45 25,70 89.7,70"/>
<path class="ed" d="M591.3,2246.2c15,0 46.7,20 46.7,50V2568.7c0,45 25,70 77.7,70"/>
<path class="ed" d="M591.3,2217c15,0 28.7,20 28.7,50V2674c0,45 25,70 95.7,70"/>
<path class="ed" d="M591.3,2246.2c15,0 40.7,20 40.7,50V2674c0,45 25,70 83.7,70"/>
<path class="ed" d="M591.3,2217c15,0 31.7,20 31.7,50V2779.4c0,45 25,70 92.7,70"/>
<path class="ed" d="M591.3,2246.2c15,0 43.7,20 43.7,50V2779.4c0,45 25,70 80.7,70"/>
<path class="ed" d="M591.3,2217c15,0 34.7,20 34.7,50V2884.7c0,45 25,70 89.7,70"/>
<path class="ed" d="M591.3,2246.2c15,0 46.7,20 46.7,50V2884.7c0,45 25,70 77.7,70"/>
<path class="ed" d="M591.3,2217c15,0 28.7,20 28.7,50V2990.1c0,45 25,70 95.7,70"/>
<path class="ed" d="M591.3,2246.2c15,0 40.7,20 40.7,50V2990.1c0,45 25,70 83.7,70"/>
<path class="ed" d="M591.3,2217c15,0 31.7,20 31.7,50V3095.4c0,45 25,70 92.7,70"/>
<path class="ed" d="M591.3,2246.2c15,0 43.7,20 43.7,50V3095.4c0,45 25,70 80.7,70"/>
<path class="ed" d="M591.3,2217c15,0 34.7,20 34.7,50V3200.8c0,45 25,70 93.7,70"/>
<path class="ed" d="M591.3,2246.2c15,0 46.7,20 46.7,50V3200.8c0,45 25,70 81.7,70"/>
<path class="ed" d="M591.3,2217c15,0 28.7,20 28.7,50V3306.1c0,45 25,70 95.7,70"/>
<path class="ed" d="M591.3,2246.2c15,0 40.7,20 40.7,50V3306.1c0,45 25,70 83.7,70"/>
<path class="ed" d="M591.3,2217c15,0 31.7,20 31.7,50V3411.5c0,45 25,70 92.7,70"/>
<path class="ed" d="M591.3,2246.2c15,0 43.7,20 43.7,50V3411.5c0,45 25,70 80.7,70"/>
<path class="ed" d="M591.3,2217c15,0 34.7,20 34.7,50V3516.8c0,45 25,70 89.7,70"/>
<path class="ed" d="M591.3,2246.2c15,0 46.7,20 46.7,50V3516.8c0,45 25,70 77.7,70"/>
<path class="ed" d="M591.3,2217c15,0 28.7,20 28.7,50V3622.2c0,45 25,70 95.7,70"/>
<path class="ed" d="M591.3,2246.2c15,0 40.7,20 40.7,50V3622.2c0,45 25,70 83.7,70"/>
<path class="ed" d="M591.3,2217c15,0 31.7,20 31.7,50V3727.5c0,45 25,70 92.7,70"/>
<path class="ed" d="M591.3,2246.2c15,0 43.7,20 43.7,50V3727.5c0,45 25,70 80.7,70"/>
<path class="ed" d="M591.3,2217c15,0 34.7,20 34.7,50V3832.9c0,45 25,70 89.7,70"/>
<path class="ed" d="M591.3,2246.2c15,0 46.7,20 46.7,50V3832.9c0,45 25,70 77.7,70"/>
<path class="ed" d="M591.3,2217c15,0 28.7,20 28.7,50V3938.2c0,45 25,70 95.7,70"/>
<path class="ed" d="M591.3,2246.2c15,0 40.7,20 40.7,50V3938.2c0,45 25,70 83.7,70"/>
<path class="ed" d="M591.3,2217c15,0 31.7,20 31.7,50V4043.6c0,45 25,70 92.7,70"/>
<path class="ed" d="M591.3,2246.2c15,0 43.7,20 43.7,50V4043.6c0,45 25,70 80.7,70"/>
<path class="ed" d="M591.3,2217c15,0 34.7,20 34.7,50V4148.9c0,45 25,70 89.7,70"/>
<path class="ed" d="M591.3,2246.2c15,0 46.7,20 46.7,50V4148.9c0,45 25,70 77.7,70"/>

<path class="ed" d="M460,2108C460,1185.9 629.7,58.8 719.7,58.8"/>
<path class="ed" d="M461.5,2108C461.5,1233.2 629.7,164.1 719.7,164.1"/>
<path class="ed" d="M463,2108C463,1280.6 629.7,269.4 719.7,269.4"/>
<path class="ed" d="M464.5,2108C464.5,1328 629.7,374.7 719.7,374.7"/>
<path class="ed" d="M466,2108C466,1375.4 629.7,480 719.7,480"/>
<path class="ed" d="M467.5,2108C467.5,1438.4 566,620 656,620"/>
<path class="ed" d="M469,2108C469,1540.9 629.7,847.7 719.7,847.7"/>
<path class="ed" d="M470.5,2108C470.5,1588.3 629.7,953.1 719.7,953.1"/>
<path class="ed" d="M472,2108C472,1635.7 625.7,1058.4 715.7,1058.4"/>
<path class="ed" d="M473.5,2108C473.5,1683.1 625.7,1163.8 715.7,1163.8"/>
<path class="ed" d="M475,2108C475,1730.5 625.7,1269.1 715.7,1269.1"/>
<path class="ed" d="M477,2108C477,1777.9 625.7,1374.5 715.7,1374.5"/>
<path class="ed" d="M480,2108C480,1825.3 625.7,1479.8 715.7,1479.8"/>
<path class="ed" d="M484,2108C484,1872.7 625.7,1585.2 715.7,1585.2"/>
<path class="ed" d="M489,2108C490,1920.1 625.7,1690.5 715.7,1690.5"/>
<path class="ed" d="M496,2108C500,1967.6 625.7,1795.9 715.7,1795.9"/>
<path class="ed" d="M506,2108C515,2014.9 625.7,1901.2 715.7,1901.2"/>
<path class="ed" d="M522,2108C540,2062.4 625.7,2006.6 715.7,2006.6"/>
<path class="ed" d="M601.7,2133C640,2133 680,2111.9 719.7,2111.9"/>
<path class="ed" d="M601.7,2188C640,2188 676,2217.3 715.7,2217.3"/>
<path class="ed" d="M601.7,2297C640,2297 676,2322.6 715.7,2322.6"/>
<path class="ed" d="M522,2316C540,2366.4 625.7,2428 715.7,2428"/>
<path class="ed" d="M506,2316C515,2413.8 625.7,2533.3 715.7,2533.3"/>
<path class="ed" d="M496,2316C500,2461.2 625.7,2638.7 715.7,2638.7"/>
<path class="ed" d="M489,2316C490,2508.6 625.7,2744 715.7,2744"/>
<path class="ed" d="M484,2316C484,2556 625.7,2849.4 715.7,2849.4"/>
<path class="ed" d="M480,2316C480,2603.4 625.7,2954.7 715.7,2954.7"/>
<path class="ed" d="M477,2316C477,2650.8 625.7,3060.1 715.7,3060.1"/>
<path class="ed" d="M475,2316C475,2698.2 625.7,3165.4 715.7,3165.4"/>
<path class="ed" d="M473.5,2316C473.5,2745.7 629.7,3270.8 719.7,3270.8"/>
<path class="ed" d="M472,2316C472,2793 625.7,3376.1 715.7,3376.1"/>
<path class="ed" d="M470.5,2316C470.5,2840.5 625.7,3481.5 715.7,3481.5"/>
<path class="ed" d="M469,2316C469,2887.9 625.7,3586.8 715.7,3586.8"/>
<path class="ed" d="M467.5,2316C467.5,2935.3 625.7,3692.2 715.7,3692.2"/>
<path class="ed" d="M466,2316C466,2982.7 625.7,3797.5 715.7,3797.5"/>
<path class="ed" d="M464.5,2316C464.5,3030.1 625.7,3902.9 715.7,3902.9"/>
<path class="ed" d="M463,2316C463,3077.5 625.7,4008.2 715.7,4008.2"/>
<path class="ed" d="M461.5,2316C461.5,3124.9 625.7,4113.6 715.7,4113.6"/>
<path class="ed" d="M460,2316C460,3172.3 625.7,4218.9 715.7,4218.9"/>
</g>

<text x="16.7" y="4341.5" style="font-size:14.7px">Generated by SchemaSpy</text>
</svg>
